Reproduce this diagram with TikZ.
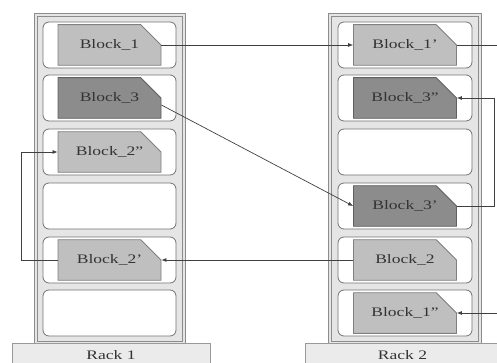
\documentclass[tikz,border=0pt]{standalone}
\usepackage{fontspec}
\newfontfamily\blkfont[FakeStretch=1.35]{Liberation Serif}
\usetikzlibrary{calc}
\usetikzlibrary{positioning}
\usetikzlibrary{shapes.misc}
\usetikzlibrary{arrows.meta}
\tikzstyle{racknode} = [draw=black!45, double=black!10, double distance=2.5pt, fill=black!10, minimum height=328pt, inner sep=0]
\tikzstyle{slotnode} = [draw=black!55, line width=0.8pt, fill=white, rounded corners=6pt, minimum width=133pt, minimum height=46pt, inner sep=0]
\tikzstyle{blknode} = [draw, line width=0.8pt, chamfered rectangle, chamfered rectangle corners=north east, chamfered rectangle xsep=18pt, chamfered rectangle ysep=15pt, minimum width=103pt, minimum height=32pt, inner sep=0, text=black!80, font=\blkfont\fontsize{13}{15}\selectfont]
\tikzstyle{basenode} = [draw=black!40, fill=black!8, minimum height=24pt, inner sep=0, text=black!80, font=\blkfont\fontsize{13}{15}\selectfont]
\tikzstyle{colorL} = [fill=black!25, draw=black!50]
\tikzstyle{colorD} = [fill=black!45, draw=black!62]
\tikzstyle{link} = [draw=black!75, line width=0.7pt]
\tikzstyle{linkarr} = [link, -{Latex[length=5pt,width=4pt]}]

\begin{document}
\begin{tikzpicture}[x=1pt, y=-1pt]
    \useasboundingbox (0,0) rectangle (497,363);
    \clip (0,0) rectangle (497,363);

    % racks and bases
    \node[racknode, minimum width=148pt] (rack_a) at (110,179) {};
    \node[racknode, minimum width=150pt] (rack_b) at (405,179) {};
    \node[basenode, minimum width=198pt] (base_a) at (111,355) {Rack 1};
    \node[basenode, minimum width=195pt] (base_b) at (402.5,355) {Rack 2};

    % slots of rack 1
    \node[slotnode] (ra_s1) at (109.5,45) {};
    \node[slotnode] (ra_s2) at (109.5,98) {};
    \node[slotnode] (ra_s3) at (109.5,152) {};
    \node[slotnode] (ra_s4) at (109.5,206) {};
    \node[slotnode] (ra_s5) at (109.5,260) {};
    \node[slotnode] (ra_s6) at (109.5,313) {};

    % slots of rack 2
    \node[slotnode, minimum width=134pt] (rb_s1) at (405,45) {};
    \node[slotnode, minimum width=134pt] (rb_s2) at (405,98) {};
    \node[slotnode, minimum width=134pt] (rb_s3) at (405,152) {};
    \node[slotnode, minimum width=134pt] (rb_s4) at (405,206) {};
    \node[slotnode, minimum width=134pt] (rb_s5) at (405,260) {};
    \node[slotnode, minimum width=134pt] (rb_s6) at (405,313) {};

    % blocks
    \node[blknode, colorL] (blk_1) at (ra_s1) {Block\_1};
    \node[blknode, colorD] (blk_3) at (ra_s2) {Block\_3};
    \node[blknode, colorL] (blk_2pp) at (ra_s3) {Block\_2”};
    \node[blknode, colorL] (blk_2p) at (ra_s5) {Block\_2’};

    \node[blknode, colorL] (blk_1p) at (rb_s1) {Block\_1’};
    \node[blknode, colorD] (blk_3pp) at (rb_s2) {Block\_3”};
    \node[blknode, colorD] (blk_3p) at (rb_s4) {Block\_3’};
    \node[blknode, colorL] (blk_2) at (rb_s5) {Block\_2};
    \node[blknode, colorL] (blk_1pp) at (rb_s6) {Block\_1”};

    % copies
    \draw[linkarr] (blk_1.east) -- (blk_1p.west);
    \draw[linkarr] ($(blk_3.east)+(0,7)$) -- (blk_3p.west);
    \draw[linkarr] (blk_3p.east) -- ++(37,0) |- (blk_3pp.east);
    \draw[linkarr] (blk_1p.east) -- ++(60,0) |- (blk_1pp.east);
    \draw[linkarr] (blk_2.west) -- (blk_2p.east);
    \draw[linkarr] (blk_2p.west) -- ++(-36,0) |- (blk_2pp.west);
\end{tikzpicture}
\end{document}
